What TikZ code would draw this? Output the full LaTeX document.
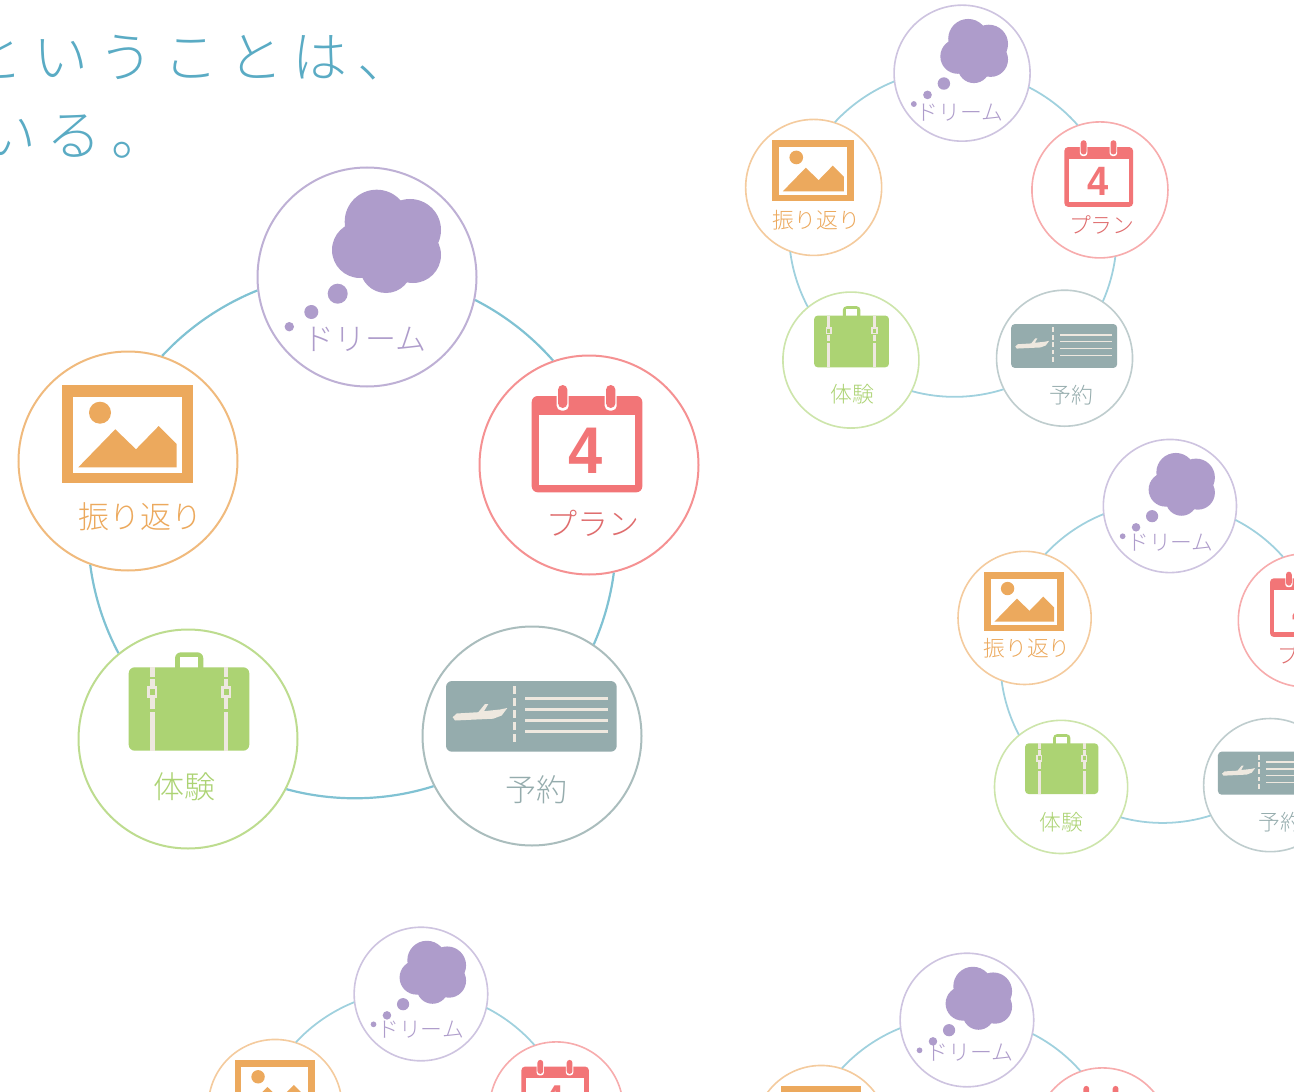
\documentclass[tikz,border=0pt]{standalone}
\usepackage{fontspec}
\newfontfamily\kjp{Noto Sans CJK JP Light}
\newfontfamily\kjphead[LetterSpace=18]{Noto Sans CJK JP Light}
\newfontfamily\kdigit{Liberation Sans Bold}
\definecolor{kteal}{HTML}{5AABC4}
\definecolor{kringc}{HTML}{60B3C8}
\definecolor{kdreamc}{HTML}{AE9CCB}
\definecolor{kplanc}{HTML}{F27577}
\definecolor{kticketc}{HTML}{95ACAD}
\definecolor{kcasec}{HTML}{ACD373}
\definecolor{kphotoc}{HTML}{ECA95D}
\definecolor{kpale}{HTML}{EEE8DF}
\tikzset{
  kstation/.style={draw=#1!\kmix!white,circle,fill=white,inner sep=0pt,minimum size=109.5pt,transform shape},
  klabel/.style={text=#1,inner sep=0pt,transform shape,font=\kjp\fontsize{\klabsize}{\klabsize}\selectfont},
  kring/.style={draw=kringc!\kmix!white,line width=1.1*\klw pt},
  kheadline/.style={text=kteal,anchor=base west,inner sep=0pt,font=\kjphead\fontsize{27.5}{27.5}\selectfont},
}
\newcommand{\kcycle}[6]{
\pgfmathsetmacro{\klw}{0.5+0.5*#4}
\pgfmathsetmacro{\krad}{3*#4}
\pgfmathsetmacro{\kpin}{2.35*#4}
\def\klabsize{#5}
\ifcase#6
\def\kmix{80}\def\kla{-2,62}\def\klb{4,58}\def\klc{4,54}\def\kld{-4,48}\def\kle{12.5,56}
\or\def\kmix{60}\def\kla{-3,64}\def\klb{3,56.4}\def\klc{10.5,59}\def\kld{2.5,54.5}\def\kle{4,53}
\or\def\kmix{60}\def\kla{1,61}\def\klb{9,57}\def\klc{17,60.5}\def\kld{1,58}\def\kle{4,49.5}
\or\def\kmix{60}\def\kla{-0.5,58}\def\klb{4,56}\def\klc{4,56}\def\kld{4,56}\def\kle{4,56}
\or\def\kmix{60}\def\kla{4.5,53}\def\klb{4,56}\def\klc{4,56}\def\kld{4,56}\def\kle{4,56}
\fi
\begin{scope}[shift={(#2,#3)},scale=#4,line width=\klw pt]
\node[kstation=kdreamc] (#1dream) at (13,-259){};
\node[kstation=kplanc] (#1plan) at (235,-71){};
\node[kstation=kticketc] (#1ticket) at (178,200){};
\node[kstation=kcasec] (#1case) at (-166,203){};
\node[kstation=kphotoc] (#1photo) at (-226,-75){};
\foreach \kfrom/\kout/\kto/\kin/\kbend in {dream/-12.5/plan/109.8/10.8,plan/-77.3/ticket/56.2/8,ticket/207.2/case/-27.7/16.5,case/129.5/photo/250.9/10.2,photo/72/dream/187.9/12.6}{\draw[kring](#1\kfrom.\kout) to [bend left=\kbend,looseness=0.86](#1\kto.\kin);}
\begin{scope}[shift={(13,-259)}]
\foreach \kx/\ky/\kr in {9.7/-55.3/32,43/-47/31,-7/-27/28,46/-22/28,19/-10/26,20/-35/27,-29.3/16.7/10,-55.7/35/7,-77.7/49.7/4.7}{\fill[kdreamc](\kx,\ky)circle(\kr);}
\node[klabel=kdreamc] (#1dreamlab) at (\kla){ドリーム};
\end{scope}
\begin{scope}[shift={(235,-71)}]
\fill[kplanc,rounded corners=\krad pt](-57.3,-69)rectangle(53.3,27.3);
\fill[white](-50.3,-50)rectangle(46,20);
\foreach \kx in {-26.3,21.7}{
\fill[white,rounded corners=\kpin pt](\kx-6,-82)rectangle(\kx+6,-54.5);
\fill[kplanc,rounded corners=\kpin pt](\kx-4.7,-80)rectangle(\kx+4.7,-57);}
\node[text=kplanc,inner sep=0pt,transform shape,xscale=0.93,font=\kdigit\fontsize{33}{33}\selectfont] (#1planday) at (-3.7,-14.3){4};
\node[klabel=kplanc!92!black] (#1planlab) at (\klb){プラン};
\end{scope}
\begin{scope}[shift={(178,200)}]
\fill[kticketc,rounded corners=\krad pt](-86,-55)rectangle(84.7,15.7);
\foreach \ky in {-50,-38,-26,-14,-2}{\fill[kpale](-19.5,\ky)rectangle(-16.5,\ky+8);}
\foreach \ky in {-37.7,-26.7,-15.7,-4.7}{\fill[kpale](-7,\ky-1.2)rectangle(76.3,\ky+1.2);}
\fill[kpale](-79.3,-18.8)--(-75.3,-22.5)--(-53.7,-23.8)--(-47,-32)--(-43.7,-32)--(-48,-24.8)--(-32,-26.5)--(-24.7,-28)--(-30.3,-20.5)--(-38.7,-17.3)--(-77,-15.5)--cycle;
\node[klabel=kticketc] (#1ticketlab) at (\klc){予約};
\end{scope}
\begin{scope}[shift={(-166,203)}]
\fill[kcasec,rounded corners=\krad pt](-13,-86.7)rectangle(15.3,-60);
\fill[white](-8,-82.3)rectangle(10,-71);
\fill[kcasec,rounded corners=\krad pt](-59.3,-71.7)rectangle(61.3,11.7);
\foreach \kx in {-35.7,38}{
\foreach \ky/\kyb in {-71.7/-62,-60.5/-53,-41/-30,-27/11.7}{\fill[kpale](\kx-2.3,\ky)rectangle(\kx+2.3,\kyb);}
\fill[kpale](\kx-5,-53)rectangle(\kx+5,-41.5);
\fill[kcasec](\kx-2.5,-50.5)rectangle(\kx+2.5,-44);}
\node[klabel=kcasec] (#1caselab) at (\kld){体験};
\end{scope}
\begin{scope}[shift={(-226,-75)}]
\fill[kphotoc](-66.3,-76)rectangle(65.3,22.3);
\fill[white](-55.3,-64.3)rectangle(54,11.7);
\fill[kphotoc](-28,-48.3)circle(11);
\fill[kphotoc](-49.7,6.3)--(-12.7,-31.7)--(8,-11.7)--(30.7,-35)--(48.7,-17)--(48.7,6.3)--cycle;
\node[klabel=kphotoc] (#1photolab) at (\kle){振り返り};
\end{scope}
\end{scope}
}
\begin{document}
\begin{tikzpicture}[x=0.5pt,y=-0.5pt]
\useasboundingbox(0,0)rectangle(1294,1091);
\node[kheadline] (headone) at (-32,78){ということは、};
\node[kheadline] (headtwo) at (-19,156){いる。};
\foreach \kname/\kx/\ky/\ks/\kfs/\kset in {m/354/536/1/15.5/0,a/954/234/0.621/17.6/1,b/1162/663.5/0.608/17.9/2,c/413/1152/0.61/17.9/3,d/959/1178/0.61/18/4}{
\kcycle{\kname}{\kx}{\ky}{\ks}{\kfs}{\kset}
}
\end{tikzpicture}
\end{document}
